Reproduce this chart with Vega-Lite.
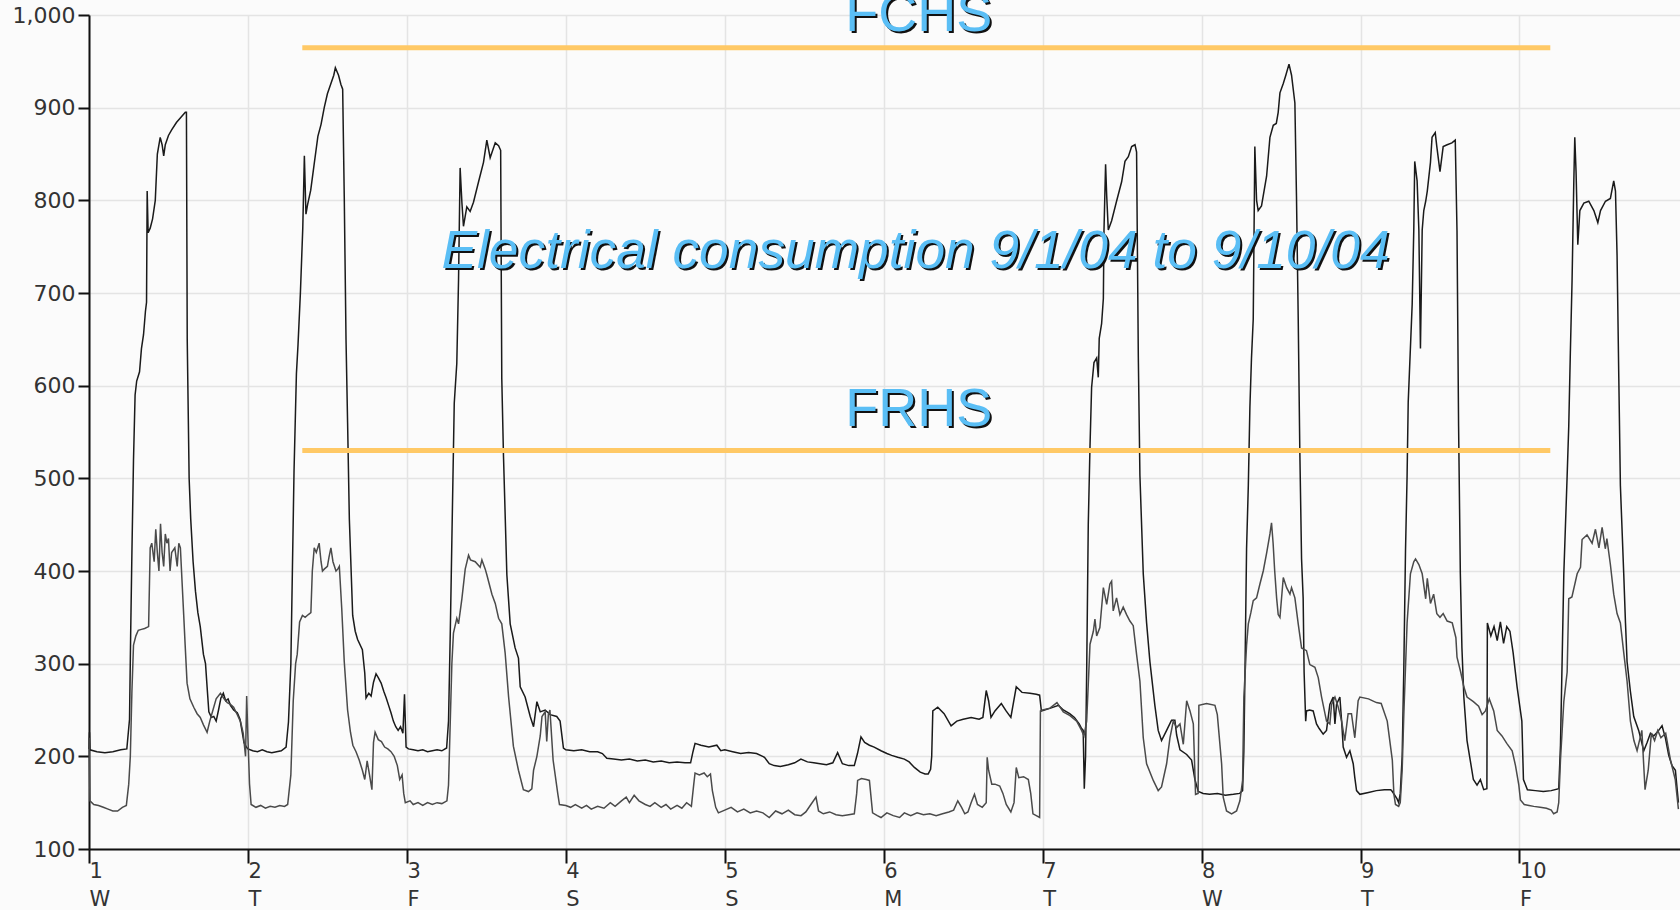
{
"$schema": "https://vega.github.io/schema/vega-lite/v6.json",
"width": 1591, "height": 834,
"autosize": {"type": "none"},
"padding": {"left": 89, "top": 15, "right": 0, "bottom": 61},
"background": "#fbfbfb",
"config": {"view": {"stroke": null, "fill": "#fbfbfb"}, "font": "DejaVu Sans"},
"datasets": {
"fchs": [
{"d":1.0,"v":208},{"d":1.003,"v":226},{"d":1.006,"v":207},{"d":1.05,"v":205},{"d":1.1,"v":204},{"d":1.15,"v":205},{"d":1.2,"v":207},{"d":1.238,"v":208},{"d":1.255,"v":240},{"d":1.262,"v":330},{"d":1.27,"v":420},{"d":1.28,"v":520},{"d":1.29,"v":590},{"d":1.3,"v":605},{"d":1.318,"v":615},{"d":1.33,"v":640},{"d":1.343,"v":655},{"d":1.355,"v":680},{"d":1.362,"v":690},{"d":1.366,"v":810},{"d":1.372,"v":765},{"d":1.385,"v":770},{"d":1.4,"v":780},{"d":1.417,"v":800},{"d":1.43,"v":850},{"d":1.448,"v":868},{"d":1.46,"v":860},{"d":1.47,"v":848},{"d":1.48,"v":860},{"d":1.5,"v":870},{"d":1.52,"v":876},{"d":1.55,"v":884},{"d":1.58,"v":890},{"d":1.606,"v":895},{"d":1.613,"v":895},{"d":1.618,"v":650},{"d":1.63,"v":500},{"d":1.64,"v":456},{"d":1.655,"v":410},{"d":1.67,"v":378},{"d":1.685,"v":355},{"d":1.7,"v":340},{"d":1.72,"v":310},{"d":1.733,"v":300},{"d":1.745,"v":270},{"d":1.754,"v":248},{"d":1.77,"v":242},{"d":1.785,"v":243},{"d":1.8,"v":238},{"d":1.815,"v":250},{"d":1.83,"v":263},{"d":1.845,"v":268},{"d":1.86,"v":260},{"d":1.875,"v":262},{"d":1.89,"v":255},{"d":1.91,"v":250},{"d":1.933,"v":247},{"d":1.95,"v":240},{"d":1.965,"v":225},{"d":1.975,"v":215},{"d":1.99,"v":210},
{"d":2.0,"v":208},{"d":2.03,"v":206},{"d":2.06,"v":205},{"d":2.09,"v":207},{"d":2.12,"v":205},{"d":2.15,"v":204},{"d":2.18,"v":205},{"d":2.21,"v":206},{"d":2.24,"v":210},{"d":2.255,"v":237},{"d":2.27,"v":300},{"d":2.28,"v":404},{"d":2.29,"v":508},{"d":2.305,"v":613},{"d":2.315,"v":644},{"d":2.33,"v":700},{"d":2.345,"v":770},{"d":2.355,"v":848},{"d":2.365,"v":785},{"d":2.375,"v":795},{"d":2.395,"v":811},{"d":2.415,"v":837},{"d":2.44,"v":869},{"d":2.46,"v":882},{"d":2.48,"v":900},{"d":2.5,"v":915},{"d":2.52,"v":925},{"d":2.54,"v":935},{"d":2.55,"v":943},{"d":2.57,"v":935},{"d":2.585,"v":925},{"d":2.596,"v":920},{"d":2.606,"v":804},{"d":2.617,"v":650},{"d":2.627,"v":560},{"d":2.638,"v":456},{"d":2.659,"v":352},{"d":2.675,"v":335},{"d":2.69,"v":326},{"d":2.72,"v":315},{"d":2.735,"v":290},{"d":2.743,"v":263},{"d":2.76,"v":268},{"d":2.775,"v":265},{"d":2.79,"v":280},{"d":2.806,"v":289},{"d":2.82,"v":285},{"d":2.838,"v":279},{"d":2.855,"v":270},{"d":2.87,"v":263},{"d":2.885,"v":255},{"d":2.9,"v":247},{"d":2.915,"v":238},{"d":2.93,"v":232},{"d":2.945,"v":228},{"d":2.96,"v":232},{"d":2.975,"v":225},{"d":2.985,"v":267},{"d":2.995,"v":210},
{"d":3.01,"v":208},{"d":3.04,"v":207},{"d":3.07,"v":206},{"d":3.1,"v":207},{"d":3.13,"v":205},{"d":3.16,"v":206},{"d":3.19,"v":207},{"d":3.22,"v":206},{"d":3.25,"v":209},{"d":3.262,"v":238},{"d":3.273,"v":333},{"d":3.283,"v":433},{"d":3.298,"v":581},{"d":3.314,"v":624},{"d":3.325,"v":714},{"d":3.335,"v":835},{"d":3.346,"v":798},{"d":3.356,"v":772},{"d":3.377,"v":793},{"d":3.398,"v":788},{"d":3.419,"v":798},{"d":3.451,"v":820},{"d":3.482,"v":841},{"d":3.503,"v":865},{"d":3.524,"v":846},{"d":3.556,"v":862},{"d":3.577,"v":859},{"d":3.59,"v":854},{"d":3.597,"v":608},{"d":3.608,"v":523},{"d":3.629,"v":396},{"d":3.65,"v":343},{"d":3.681,"v":317},{"d":3.702,"v":306},{"d":3.713,"v":275},{"d":3.744,"v":264},{"d":3.776,"v":243},{"d":3.797,"v":232},{"d":3.818,"v":259},{"d":3.839,"v":248},{"d":3.87,"v":250},{"d":3.901,"v":245},{"d":3.943,"v":243},{"d":3.964,"v":238},{"d":3.985,"v":209},
{"d":4.0,"v":207},{"d":4.05,"v":206},{"d":4.1,"v":207},{"d":4.15,"v":205},{"d":4.2,"v":205},{"d":4.23,"v":203},{"d":4.258,"v":198},{"d":4.3,"v":197},{"d":4.35,"v":196},{"d":4.4,"v":197},{"d":4.45,"v":195},{"d":4.5,"v":196},{"d":4.55,"v":194},{"d":4.6,"v":195},{"d":4.65,"v":193},{"d":4.7,"v":194},{"d":4.75,"v":193},{"d":4.785,"v":193},{"d":4.8,"v":205},{"d":4.813,"v":214},{"d":4.85,"v":212},{"d":4.9,"v":210},{"d":4.95,"v":212},{"d":4.975,"v":206},
{"d":5.0,"v":207},{"d":5.05,"v":205},{"d":5.1,"v":203},{"d":5.15,"v":204},{"d":5.2,"v":203},{"d":5.25,"v":199},{"d":5.28,"v":192},{"d":5.311,"v":190},{"d":5.35,"v":189},{"d":5.4,"v":191},{"d":5.44,"v":193},{"d":5.479,"v":197},{"d":5.52,"v":194},{"d":5.56,"v":193},{"d":5.6,"v":192},{"d":5.64,"v":191},{"d":5.68,"v":193},{"d":5.71,"v":204},{"d":5.74,"v":192},{"d":5.78,"v":190},{"d":5.815,"v":190},{"d":5.835,"v":203},{"d":5.857,"v":221},{"d":5.88,"v":215},{"d":5.91,"v":212},{"d":5.94,"v":210},{"d":5.983,"v":206},
{"d":6.02,"v":203},{"d":6.05,"v":201},{"d":6.088,"v":199},{"d":6.13,"v":197},{"d":6.16,"v":194},{"d":6.193,"v":188},{"d":6.23,"v":183},{"d":6.26,"v":181},{"d":6.28,"v":181},{"d":6.295,"v":186},{"d":6.302,"v":200},{"d":6.309,"v":249},{"d":6.34,"v":253},{"d":6.38,"v":246},{"d":6.424,"v":233},{"d":6.46,"v":238},{"d":6.5,"v":240},{"d":6.55,"v":242},{"d":6.6,"v":240},{"d":6.624,"v":242},{"d":6.645,"v":271},{"d":6.66,"v":260},{"d":6.675,"v":242},{"d":6.7,"v":249},{"d":6.74,"v":257},{"d":6.77,"v":249},{"d":6.8,"v":242},{"d":6.834,"v":275},{"d":6.87,"v":269},{"d":6.92,"v":268},{"d":6.96,"v":267},{"d":6.981,"v":266},{"d":6.992,"v":249},
{"d":7.05,"v":252},{"d":7.1,"v":255},{"d":7.13,"v":250},{"d":7.17,"v":246},{"d":7.2,"v":242},{"d":7.23,"v":235},{"d":7.245,"v":230},{"d":7.255,"v":228},{"d":7.262,"v":165},{"d":7.27,"v":200},{"d":7.277,"v":291},{"d":7.287,"v":450},{"d":7.298,"v":535},{"d":7.308,"v":598},{"d":7.323,"v":625},{"d":7.34,"v":630},{"d":7.35,"v":609},{"d":7.356,"v":651},{"d":7.371,"v":667},{"d":7.382,"v":694},{"d":7.386,"v":768},{"d":7.396,"v":839},{"d":7.403,"v":805},{"d":7.413,"v":768},{"d":7.434,"v":778},{"d":7.465,"v":799},{"d":7.497,"v":820},{"d":7.518,"v":842},{"d":7.539,"v":847},{"d":7.56,"v":858},{"d":7.581,"v":860},{"d":7.591,"v":852},{"d":7.602,"v":630},{"d":7.612,"v":503},{"d":7.633,"v":397},{"d":7.654,"v":344},{"d":7.675,"v":302},{"d":7.706,"v":255},{"d":7.727,"v":228},{"d":7.748,"v":217},{"d":7.78,"v":228},{"d":7.811,"v":239},{"d":7.832,"v":239},{"d":7.843,"v":223},{"d":7.864,"v":207},{"d":7.906,"v":202},{"d":7.937,"v":196},{"d":7.958,"v":175},{"d":7.979,"v":162},
{"d":8.01,"v":160},{"d":8.05,"v":159},{"d":8.1,"v":160},{"d":8.15,"v":158},{"d":8.2,"v":159},{"d":8.24,"v":160},{"d":8.258,"v":163},{"d":8.266,"v":206},{"d":8.273,"v":291},{"d":8.283,"v":424},{"d":8.294,"v":492},{"d":8.304,"v":577},{"d":8.314,"v":630},{"d":8.325,"v":672},{"d":8.335,"v":858},{"d":8.346,"v":800},{"d":8.356,"v":789},{"d":8.377,"v":794},{"d":8.409,"v":826},{"d":8.43,"v":868},{"d":8.451,"v":881},{"d":8.47,"v":883},{"d":8.482,"v":895},{"d":8.493,"v":916},{"d":8.514,"v":926},{"d":8.53,"v":935},{"d":8.55,"v":947},{"d":8.566,"v":935},{"d":8.587,"v":905},{"d":8.597,"v":805},{"d":8.608,"v":672},{"d":8.618,"v":530},{"d":8.629,"v":413},{"d":8.639,"v":371},{"d":8.645,"v":291},{"d":8.655,"v":238},{"d":8.66,"v":249},{"d":8.68,"v":250},{"d":8.702,"v":249},{"d":8.723,"v":235},{"d":8.74,"v":230},{"d":8.765,"v":224},{"d":8.786,"v":228},{"d":8.807,"v":256},{"d":8.828,"v":264},{"d":8.839,"v":235},{"d":8.849,"v":256},{"d":8.87,"v":264},{"d":8.881,"v":238},{"d":8.891,"v":210},{"d":8.912,"v":199},{"d":8.933,"v":206},{"d":8.954,"v":192},{"d":8.964,"v":177},{"d":8.975,"v":163},{"d":8.996,"v":159},
{"d":9.05,"v":161},{"d":9.1,"v":163},{"d":9.15,"v":164},{"d":9.19,"v":164},{"d":9.2,"v":162},{"d":9.23,"v":154},{"d":9.24,"v":150},{"d":9.25,"v":160},{"d":9.262,"v":200},{"d":9.272,"v":291},{"d":9.283,"v":422},{"d":9.293,"v":503},{"d":9.3,"v":582},{"d":9.325,"v":688},{"d":9.335,"v":768},{"d":9.341,"v":842},{"d":9.356,"v":821},{"d":9.367,"v":768},{"d":9.377,"v":640},{"d":9.388,"v":768},{"d":9.398,"v":789},{"d":9.41,"v":799},{"d":9.42,"v":810},{"d":9.44,"v":841},{"d":9.45,"v":868},{"d":9.47,"v":873},{"d":9.48,"v":858},{"d":9.5,"v":831},{"d":9.52,"v":858},{"d":9.545,"v":860},{"d":9.575,"v":862},{"d":9.596,"v":865},{"d":9.607,"v":767},{"d":9.617,"v":556},{"d":9.628,"v":397},{"d":9.638,"v":317},{"d":9.65,"v":264},{"d":9.67,"v":217},{"d":9.69,"v":196},{"d":9.71,"v":175},{"d":9.733,"v":169},{"d":9.754,"v":175},{"d":9.775,"v":164},{"d":9.795,"v":165},{"d":9.798,"v":344},{"d":9.82,"v":330},{"d":9.84,"v":340},{"d":9.86,"v":325},{"d":9.88,"v":345},{"d":9.9,"v":322},{"d":9.92,"v":340},{"d":9.94,"v":335},{"d":9.96,"v":312},{"d":9.985,"v":275},{"d":10.015,"v":238},{"d":10.025,"v":175},{"d":10.05,"v":164},
{"d":10.1,"v":163},{"d":10.15,"v":162},{"d":10.2,"v":163},{"d":10.247,"v":165},{"d":10.258,"v":212},{"d":10.279,"v":397},{"d":10.3,"v":503},{"d":10.31,"v":556},{"d":10.32,"v":635},{"d":10.331,"v":714},{"d":10.342,"v":821},{"d":10.348,"v":868},{"d":10.356,"v":831},{"d":10.367,"v":752},{"d":10.38,"v":789},{"d":10.405,"v":797},{"d":10.436,"v":799},{"d":10.468,"v":789},{"d":10.493,"v":776},{"d":10.51,"v":789},{"d":10.541,"v":799},{"d":10.572,"v":802},{"d":10.593,"v":821},{"d":10.604,"v":810},{"d":10.614,"v":741},{"d":10.625,"v":608},{"d":10.635,"v":492},{"d":10.656,"v":397},{"d":10.667,"v":344},{"d":10.677,"v":302},{"d":10.698,"v":270},{"d":10.719,"v":243},{"d":10.75,"v":228},{"d":10.782,"v":206},{"d":10.803,"v":215},{"d":10.824,"v":225},{"d":10.845,"v":222},{"d":10.876,"v":228},{"d":10.897,"v":233},{"d":10.918,"v":220},{"d":10.939,"v":201},{"d":10.96,"v":190},{"d":10.981,"v":185},{"d":11.0,"v":150}
],
"frhs": [
{"d":1.0,"v":220},{"d":1.006,"v":152},{"d":1.03,"v":148},{"d":1.06,"v":147},{"d":1.09,"v":145},{"d":1.12,"v":143},{"d":1.15,"v":141},{"d":1.18,"v":141},{"d":1.21,"v":145},{"d":1.235,"v":147},{"d":1.25,"v":170},{"d":1.26,"v":200},{"d":1.27,"v":270},{"d":1.28,"v":320},{"d":1.295,"v":330},{"d":1.31,"v":336},{"d":1.33,"v":337},{"d":1.35,"v":338},{"d":1.375,"v":340},{"d":1.385,"v":425},{"d":1.395,"v":430},{"d":1.41,"v":410},{"d":1.42,"v":445},{"d":1.43,"v":420},{"d":1.44,"v":400},{"d":1.45,"v":451},{"d":1.46,"v":420},{"d":1.47,"v":405},{"d":1.48,"v":440},{"d":1.49,"v":430},{"d":1.5,"v":435},{"d":1.51,"v":400},{"d":1.52,"v":420},{"d":1.54,"v":425},{"d":1.555,"v":405},{"d":1.565,"v":430},{"d":1.575,"v":425},{"d":1.585,"v":390},{"d":1.596,"v":352},{"d":1.605,"v":320},{"d":1.617,"v":279},{"d":1.635,"v":262},{"d":1.659,"v":253},{"d":1.68,"v":246},{"d":1.7,"v":242},{"d":1.72,"v":234},{"d":1.743,"v":226},{"d":1.76,"v":238},{"d":1.775,"v":247},{"d":1.8,"v":262},{"d":1.827,"v":268},{"d":1.85,"v":262},{"d":1.87,"v":258},{"d":1.89,"v":256},{"d":1.91,"v":253},{"d":1.93,"v":246},{"d":1.954,"v":237},{"d":1.97,"v":225},{"d":1.985,"v":200},{"d":1.992,"v":265},{"d":2.0,"v":220},{"d":2.01,"v":170},{"d":2.02,"v":148},
{"d":2.05,"v":145},{"d":2.08,"v":147},{"d":2.11,"v":144},{"d":2.14,"v":146},{"d":2.17,"v":145},{"d":2.2,"v":147},{"d":2.23,"v":146},{"d":2.25,"v":148},{"d":2.27,"v":180},{"d":2.285,"v":260},{"d":2.3,"v":300},{"d":2.31,"v":310},{"d":2.325,"v":345},{"d":2.343,"v":352},{"d":2.36,"v":350},{"d":2.38,"v":353},{"d":2.396,"v":355},{"d":2.405,"v":400},{"d":2.417,"v":425},{"d":2.43,"v":420},{"d":2.448,"v":430},{"d":2.46,"v":410},{"d":2.469,"v":400},{"d":2.48,"v":402},{"d":2.5,"v":405},{"d":2.51,"v":415},{"d":2.522,"v":425},{"d":2.535,"v":410},{"d":2.554,"v":400},{"d":2.565,"v":402},{"d":2.575,"v":405},{"d":2.59,"v":360},{"d":2.606,"v":302},{"d":2.627,"v":250},{"d":2.645,"v":226},{"d":2.66,"v":212},{"d":2.68,"v":205},{"d":2.7,"v":196},{"d":2.72,"v":185},{"d":2.735,"v":175},{"d":2.75,"v":195},{"d":2.765,"v":180},{"d":2.78,"v":164},{"d":2.79,"v":215},{"d":2.8,"v":226},{"d":2.82,"v":218},{"d":2.84,"v":216},{"d":2.86,"v":210},{"d":2.88,"v":208},{"d":2.9,"v":205},{"d":2.92,"v":200},{"d":2.94,"v":190},{"d":2.955,"v":175},{"d":2.97,"v":180},{"d":2.98,"v":160},{"d":2.99,"v":150},
{"d":3.02,"v":152},{"d":3.04,"v":148},{"d":3.07,"v":150},{"d":3.1,"v":147},{"d":3.13,"v":150},{"d":3.16,"v":148},{"d":3.19,"v":150},{"d":3.22,"v":149},{"d":3.252,"v":152},{"d":3.262,"v":169},{"d":3.273,"v":238},{"d":3.283,"v":300},{"d":3.293,"v":333},{"d":3.314,"v":349},{"d":3.325,"v":343},{"d":3.346,"v":370},{"d":3.367,"v":402},{"d":3.388,"v":417},{"d":3.4,"v":412},{"d":3.43,"v":410},{"d":3.461,"v":404},{"d":3.472,"v":412},{"d":3.493,"v":402},{"d":3.503,"v":396},{"d":3.535,"v":375},{"d":3.556,"v":365},{"d":3.577,"v":349},{"d":3.597,"v":343},{"d":3.618,"v":312},{"d":3.64,"v":264},{"d":3.67,"v":211},{"d":3.702,"v":185},{"d":3.733,"v":164},{"d":3.765,"v":162},{"d":3.786,"v":165},{"d":3.797,"v":185},{"d":3.818,"v":200},{"d":3.839,"v":222},{"d":3.85,"v":243},{"d":3.87,"v":248},{"d":3.88,"v":216},{"d":3.89,"v":245},{"d":3.9,"v":250},{"d":3.92,"v":196},{"d":3.95,"v":159},{"d":3.96,"v":148},
{"d":4.0,"v":147},{"d":4.03,"v":145},{"d":4.06,"v":148},{"d":4.1,"v":144},{"d":4.13,"v":147},{"d":4.16,"v":143},{"d":4.2,"v":146},{"d":4.24,"v":144},{"d":4.28,"v":150},{"d":4.31,"v":146},{"d":4.35,"v":152},{"d":4.38,"v":156},{"d":4.4,"v":150},{"d":4.43,"v":158},{"d":4.46,"v":152},{"d":4.5,"v":148},{"d":4.53,"v":146},{"d":4.56,"v":150},{"d":4.6,"v":145},{"d":4.63,"v":148},{"d":4.66,"v":143},{"d":4.7,"v":147},{"d":4.73,"v":144},{"d":4.76,"v":150},{"d":4.79,"v":146},{"d":4.805,"v":170},{"d":4.813,"v":182},{"d":4.84,"v":180},{"d":4.87,"v":182},{"d":4.89,"v":178},{"d":4.91,"v":181},{"d":4.922,"v":163},{"d":4.943,"v":145},{"d":4.96,"v":139},
{"d":5.0,"v":142},{"d":5.04,"v":145},{"d":5.08,"v":140},{"d":5.12,"v":143},{"d":5.16,"v":139},{"d":5.2,"v":141},{"d":5.24,"v":139},{"d":5.28,"v":134},{"d":5.32,"v":141},{"d":5.36,"v":138},{"d":5.4,"v":142},{"d":5.44,"v":137},{"d":5.48,"v":136},{"d":5.51,"v":140},{"d":5.542,"v":148},{"d":5.574,"v":156},{"d":5.59,"v":141},{"d":5.62,"v":138},{"d":5.66,"v":140},{"d":5.7,"v":137},{"d":5.74,"v":136},{"d":5.78,"v":137},{"d":5.815,"v":138},{"d":5.83,"v":160},{"d":5.836,"v":174},{"d":5.86,"v":176},{"d":5.89,"v":175},{"d":5.91,"v":174},{"d":5.93,"v":139},{"d":5.96,"v":136},{"d":5.983,"v":134},
{"d":6.02,"v":139},{"d":6.06,"v":136},{"d":6.1,"v":134},{"d":6.13,"v":139},{"d":6.17,"v":136},{"d":6.21,"v":139},{"d":6.25,"v":137},{"d":6.29,"v":138},{"d":6.33,"v":136},{"d":6.37,"v":138},{"d":6.41,"v":140},{"d":6.44,"v":142},{"d":6.466,"v":152},{"d":6.49,"v":145},{"d":6.51,"v":138},{"d":6.53,"v":140},{"d":6.55,"v":150},{"d":6.571,"v":159},{"d":6.59,"v":148},{"d":6.62,"v":145},{"d":6.645,"v":150},{"d":6.651,"v":199},{"d":6.66,"v":185},{"d":6.68,"v":170},{"d":6.7,"v":170},{"d":6.73,"v":168},{"d":6.75,"v":160},{"d":6.771,"v":148},{"d":6.8,"v":140},{"d":6.82,"v":150},{"d":6.834,"v":188},{"d":6.85,"v":177},{"d":6.88,"v":178},{"d":6.91,"v":175},{"d":6.925,"v":160},{"d":6.939,"v":138},{"d":6.96,"v":136},{"d":6.981,"v":134},{"d":6.986,"v":249},
{"d":7.0,"v":250},{"d":7.046,"v":252},{"d":7.09,"v":258},{"d":7.13,"v":248},{"d":7.172,"v":244},{"d":7.214,"v":238},{"d":7.245,"v":228},{"d":7.26,"v":222},{"d":7.277,"v":238},{"d":7.298,"v":321},{"d":7.319,"v":335},{"d":7.329,"v":348},{"d":7.34,"v":330},{"d":7.36,"v":339},{"d":7.382,"v":382},{"d":7.403,"v":364},{"d":7.423,"v":386},{"d":7.434,"v":389},{"d":7.444,"v":357},{"d":7.465,"v":371},{"d":7.486,"v":353},{"d":7.507,"v":361},{"d":7.528,"v":353},{"d":7.549,"v":346},{"d":7.57,"v":341},{"d":7.591,"v":310},{"d":7.612,"v":281},{"d":7.633,"v":220},{"d":7.654,"v":192},{"d":7.696,"v":174},{"d":7.727,"v":163},{"d":7.748,"v":167},{"d":7.78,"v":192},{"d":7.801,"v":220},{"d":7.822,"v":238},{"d":7.843,"v":231},{"d":7.864,"v":235},{"d":7.885,"v":213},{"d":7.906,"v":260},{"d":7.927,"v":249},{"d":7.948,"v":235},{"d":7.962,"v":159},{"d":7.978,"v":160},{"d":7.983,"v":255},
{"d":8.031,"v":257},{"d":8.084,"v":255},{"d":8.099,"v":245},{"d":8.126,"v":192},{"d":8.136,"v":156},{"d":8.157,"v":141},{"d":8.189,"v":138},{"d":8.22,"v":141},{"d":8.241,"v":152},{"d":8.258,"v":174},{"d":8.266,"v":264},{"d":8.283,"v":320},{"d":8.294,"v":343},{"d":8.31,"v":355},{"d":8.325,"v":368},{"d":8.346,"v":371},{"d":8.367,"v":386},{"d":8.388,"v":400},{"d":8.41,"v":420},{"d":8.43,"v":440},{"d":8.44,"v":452},{"d":8.45,"v":430},{"d":8.46,"v":400},{"d":8.472,"v":371},{"d":8.482,"v":353},{"d":8.493,"v":350},{"d":8.514,"v":393},{"d":8.535,"v":382},{"d":8.556,"v":375},{"d":8.566,"v":382},{"d":8.587,"v":371},{"d":8.608,"v":343},{"d":8.629,"v":317},{"d":8.66,"v":314},{"d":8.681,"v":299},{"d":8.713,"v":296},{"d":8.734,"v":285},{"d":8.755,"v":264},{"d":8.786,"v":238},{"d":8.807,"v":235},{"d":8.818,"v":256},{"d":8.839,"v":264},{"d":8.86,"v":253},{"d":8.881,"v":238},{"d":8.901,"v":217},{"d":8.922,"v":246},{"d":8.943,"v":246},{"d":8.964,"v":220},{"d":8.985,"v":260},{"d":8.996,"v":264},
{"d":9.05,"v":262},{"d":9.1,"v":258},{"d":9.13,"v":257},{"d":9.168,"v":238},{"d":9.2,"v":196},{"d":9.21,"v":159},{"d":9.22,"v":148},{"d":9.24,"v":146},{"d":9.25,"v":150},{"d":9.262,"v":185},{"d":9.272,"v":243},{"d":9.293,"v":344},{"d":9.314,"v":397},{"d":9.335,"v":410},{"d":9.346,"v":413},{"d":9.367,"v":407},{"d":9.388,"v":397},{"d":9.41,"v":370},{"d":9.42,"v":392},{"d":9.44,"v":365},{"d":9.46,"v":375},{"d":9.48,"v":354},{"d":9.5,"v":350},{"d":9.52,"v":354},{"d":9.545,"v":346},{"d":9.577,"v":344},{"d":9.6,"v":328},{"d":9.607,"v":307},{"d":9.63,"v":291},{"d":9.65,"v":275},{"d":9.67,"v":264},{"d":9.71,"v":259},{"d":9.743,"v":254},{"d":9.765,"v":245},{"d":9.786,"v":249},{"d":9.81,"v":262},{"d":9.838,"v":249},{"d":9.86,"v":228},{"d":9.89,"v":222},{"d":9.92,"v":214},{"d":9.954,"v":206},{"d":9.975,"v":190},{"d":9.996,"v":169},{"d":10.006,"v":153},
{"d":10.03,"v":148},{"d":10.06,"v":147},{"d":10.09,"v":146},{"d":10.13,"v":145},{"d":10.17,"v":144},{"d":10.2,"v":142},{"d":10.215,"v":138},{"d":10.237,"v":140},{"d":10.247,"v":150},{"d":10.258,"v":196},{"d":10.279,"v":259},{"d":10.3,"v":291},{"d":10.31,"v":370},{"d":10.33,"v":372},{"d":10.363,"v":397},{"d":10.384,"v":404},{"d":10.394,"v":434},{"d":10.425,"v":439},{"d":10.457,"v":430},{"d":10.478,"v":445},{"d":10.5,"v":425},{"d":10.52,"v":447},{"d":10.54,"v":424},{"d":10.55,"v":435},{"d":10.572,"v":407},{"d":10.593,"v":375},{"d":10.614,"v":354},{"d":10.635,"v":344},{"d":10.656,"v":312},{"d":10.677,"v":281},{"d":10.698,"v":238},{"d":10.72,"v":217},{"d":10.74,"v":206},{"d":10.77,"v":228},{"d":10.79,"v":164},{"d":10.81,"v":185},{"d":10.83,"v":225},{"d":10.85,"v":217},{"d":10.87,"v":228},{"d":10.89,"v":220},{"d":10.92,"v":225},{"d":10.95,"v":196},{"d":10.98,"v":175},{"d":11.0,"v":143}
],
"refs": [
{"school":"FCHS","level":964.6,"from":2.342,"to":10.194},
{"school":"FRHS","level":530,"from":2.342,"to":10.194}
],
"title": [{"text": "Electrical consumption 9/1/04 to 9/10/04"}]
},
"layer": [
{
"data": {"name": "fchs"},
"mark": {"type": "line", "color": "#1a1a1a", "strokeWidth": 1.5},
"encoding": {
"x": {"field": "d", "type": "quantitative",
"scale": {"domain": [1, 11.01], "nice": false, "zero": false},
"axis": {"values": [1,2,3,4,5,6,7,8,9,10], "format": "d", "title": null, "grid": true, "gridColor": "#e4e4e4", "gridWidth": 1.5,
"domainColor": "#111111", "domainWidth": 2, "tickColor": "#111111", "tickWidth": 2, "tickSize": 14,
"labelAlign": "left", "labelBaseline": "top", "labelPadding": -3, "labelDx": 3,
"labelFont": "DejaVu Sans", "labelFontSize": 21, "labelColor": "#333333", "labelLineHeight": 28,
"labelFlush": false, "labelOverlap": false,
"labelExpr": "[datum.label, ['W','T','F','S','S','M','T','W','T','F'][datum.value - 1]]"}},
"y": {"field": "v", "type": "quantitative",
"scale": {"domain": [100, 1000], "nice": false, "zero": false},
"axis": {"values": [100,200,300,400,500,600,700,800,900,1000], "format": ",d", "title": null, "grid": true, "gridColor": "#e4e4e4", "gridWidth": 1.5,
"domainColor": "#111111", "domainWidth": 2, "tickColor": "#111111", "tickWidth": 2, "tickSize": 11,
"labelPadding": 3, "labelFont": "DejaVu Sans", "labelFontSize": 22, "labelColor": "#333333",
"labelBaseline": "middle", "labelDy": 6, "labelFlush": false, "labelOverlap": false}}
}
},
{
"data": {"name": "frhs"},
"mark": {"type": "line", "color": "#4a4a4a", "strokeWidth": 1.5},
"encoding": {
"x": {"field": "d", "type": "quantitative"},
"y": {"field": "v", "type": "quantitative"}
}
},
{
"data": {"name": "refs"},
"mark": {"type": "rule", "color": "#ffc966", "strokeWidth": 5},
"encoding": {
"x": {"field": "from", "type": "quantitative"},
"x2": {"field": "to"},
"y": {"field": "level", "type": "quantitative"}
}
},
{
"data": {"name": "refs"},
"transform": [{"filter": "datum.school == 'FCHS'"}],
"mark": {"type": "text", "font": "Liberation Sans", "fontSize": 54, "color": "#111111", "align": "center", "baseline": "alphabetic", "dx": 2, "dy": 2},
"encoding": {"text": {"field": "school"}, "x": {"datum": 6.22}, "y": {"datum": 982.7}}
},
{
"data": {"name": "refs"},
"transform": [{"filter": "datum.school == 'FCHS'"}],
"mark": {"type": "text", "font": "Liberation Sans", "fontSize": 54, "color": "#5abef5", "align": "center", "baseline": "alphabetic"},
"encoding": {"text": {"field": "school"}, "x": {"datum": 6.22}, "y": {"datum": 982.7}}
},
{
"data": {"name": "refs"},
"transform": [{"filter": "datum.school == 'FRHS'"}],
"mark": {"type": "text", "font": "Liberation Sans", "fontSize": 54, "color": "#111111", "align": "center", "baseline": "alphabetic", "dx": 2, "dy": 2},
"encoding": {"text": {"field": "school"}, "x": {"datum": 6.22}, "y": {"datum": 557}}
},
{
"data": {"name": "refs"},
"transform": [{"filter": "datum.school == 'FRHS'"}],
"mark": {"type": "text", "font": "Liberation Sans", "fontSize": 54, "color": "#5abef5", "align": "center", "baseline": "alphabetic"},
"encoding": {"text": {"field": "school"}, "x": {"datum": 6.22}, "y": {"datum": 557}}
},
{
"data": {"name": "title"},
"mark": {"type": "text", "font": "Liberation Sans", "fontStyle": "italic", "fontSize": 53.3, "color": "#111111", "align": "center", "baseline": "alphabetic", "dx": 2, "dy": 2},
"encoding": {"text": {"field": "text"}, "x": {"datum": 6.2}, "y": {"datum": 726.5}}
},
{
"data": {"name": "title"},
"mark": {"type": "text", "font": "Liberation Sans", "fontStyle": "italic", "fontSize": 53.3, "color": "#5abef5", "align": "center", "baseline": "alphabetic"},
"encoding": {"text": {"field": "text"}, "x": {"datum": 6.2}, "y": {"datum": 726.5}}
}
]
}
